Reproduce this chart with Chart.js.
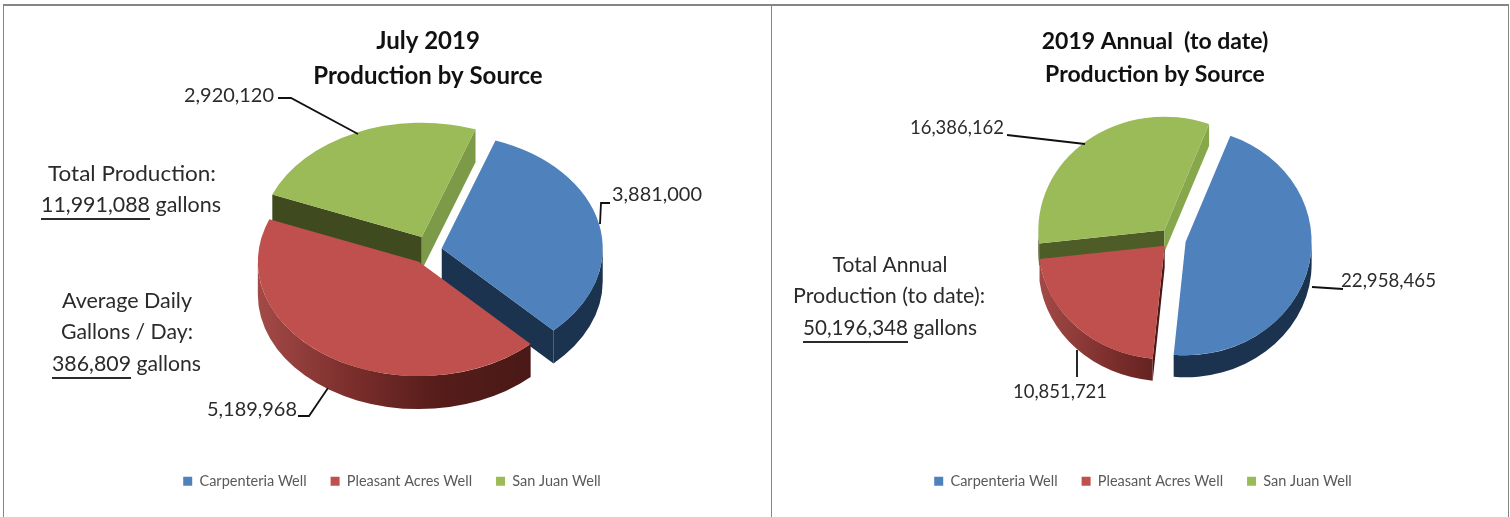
<!DOCTYPE html>
<html>
<head>
<meta charset="utf-8">
<title>Water production by source</title>
<script src="https://cdn.jsdelivr.net/npm/chart.js@4"></script>
<style>
  html, body { margin: 0; padding: 0; background: #fff; }
  body { position: relative; width: 1510px; height: 517px; overflow: hidden; }
  .panel { position: absolute; top: 4px; height: 513px; background: #fff; box-sizing: border-box;
           border-top: 2px solid #858585; }
  #framePanelA { left: 3px; width: 768px; border-left: 1px solid #858585; }
  #framePanelB { left: 771px; width: 738px; border-left: 1px solid #858585; border-right: 1px solid #858585; }
  canvas { position: absolute; top: 0; }
  #julyChart { left: 0; }
  #annualChart { left: 772px; }
</style>
</head>
<body>
<div class="panel" id="framePanelA"></div>
<div class="panel" id="framePanelB"></div>
<canvas id="julyChart" width="771" height="517"></canvas>
<canvas id="annualChart" width="736" height="517"></canvas>
<script>
const categories = ['Carpenteria Well', 'Pleasant Acres Well', 'San Juan Well'];
const sliceColors = ['#4f81bd', '#c0504d', '#9bbb59'];

const julyValues = [3881000, 5189968, 2920120];
const annualValues = [22958465, 10851721, 16386162];

const julyTitle = ['July 2019', 'Production by Source'];
const annualTitle = ['2019 Annual  (to date)', 'Production by Source'];

const julyNotes = ['Total Production:', 'Average Daily', 'Gallons / Day:'];
const julyFigures = [['11,991,088', ' gallons'], ['386,809', ' gallons']];
const annualNotes = ['Total Annual', 'Production (to date):'];
const annualFigures = [['50,196,348', ' gallons']];

const FONT = 'Lato, "Open Sans", sans-serif';

// Text squeezed horizontally to a wanted width, keeping the glyph height.
function fitText(ctx, text, x, y, width, align) {
  const natural = ctx.measureText(text).width;
  const sx = width ? width / natural : 1;
  ctx.save();
  ctx.translate(x, y);
  ctx.scale(sx, 1);
  ctx.textAlign = align;
  ctx.textBaseline = 'middle';
  ctx.fillText(text, 0, 0);
  ctx.restore();
}

// Walls of the tilted pie: visible cut faces first, then the curved rim.
function drawWalls(ctx, arc, cx, cy, k, depth, look, index) {
  const R = arc.outerRadius, s = arc.startAngle, e = arc.endAngle;
  const pt = a => [cx + R * Math.cos(a), cy + k * R * Math.sin(a)];
  const cut = (a, fill) => {
    const p = pt(a);
    ctx.beginPath();
    ctx.moveTo(cx, cy);
    ctx.lineTo(p[0], p[1]);
    ctx.lineTo(p[0], p[1] + depth);
    ctx.lineTo(cx, cy + depth);
    ctx.closePath();
    ctx.fillStyle = fill;
    ctx.fill();
  };
  const wall = look[index];
  if (-Math.cos(s) > 0) cut(s, wall.startFace);
  if (Math.cos(e) > 0) cut(e, wall.endFace);

  // The rim shows only where the slice faces the viewer (screen angles 0..PI).
  const TAU = Math.PI * 2;
  for (let turn = -1; turn <= 1; turn++) {
    const a0 = Math.max(s, turn * TAU);
    const a1 = Math.min(e, turn * TAU + Math.PI);
    if (a1 <= a0) continue;
    ctx.beginPath();
    ctx.ellipse(cx, cy, R, k * R, 0, a0, a1);
    ctx.ellipse(cx, cy + depth, R, k * R, 0, a1, a0, true);
    ctx.closePath();
    if (wall.rim.length > 1) {
      const g = ctx.createLinearGradient(cx - R, 0, cx + R * 0.66, 0);
      wall.rim.forEach((c, i) => g.addColorStop(i / (wall.rim.length - 1), c));
      ctx.fillStyle = g;
    } else {
      ctx.fillStyle = wall.rim[0];
    }
    ctx.fill();
  }
}

const tiltedPie = {
  id: 'tiltedPie',
  afterLayout(chart, args, o) {
    const t = chart.titleBlock, l = chart.legend;
    const dt = o.titleCenter - (t.left + t.right) / 2;
    t.left += dt; t.right += dt; t.top = o.titleTop; t.bottom = t.top + t.height;
    const dl = o.legendCenter - (l.left + l.right) / 2;
    l.left += dl; l.right += dl; l.top = o.legendTop; l.bottom = l.top + l.height;
  },
  beforeDatasetsDraw(chart, args, o) {
    const ctx = chart.ctx;
    const arcs = chart.getDatasetMeta(0).data;
    const place = i => {
      const mid = (arcs[i].startAngle + arcs[i].endAngle) / 2;
      return [o.center[0] + o.explode[i] * Math.cos(mid),
              o.center[1] + o.explode[i] * o.tilt * Math.sin(mid)];
    };
    // Painted back to front: the red slice sits over both neighbours' walls.
    [2, 0, 1].forEach(i => {
      const [cx, cy] = place(i);
      drawWalls(ctx, arcs[i], cx, cy, o.tilt, o.depth, o.walls, i);
      ctx.save();
      ctx.translate(cx, cy);
      ctx.scale(1, o.tilt);
      ctx.translate(-arcs[i].x, -arcs[i].y);
      arcs[i].draw(ctx);
      ctx.restore();
    });
    return false;
  },
  afterDraw(chart, args, o) {
    const ctx = chart.ctx;
    const values = chart.data.datasets[0].data;
    ctx.save();
    ctx.strokeStyle = '#111';
    ctx.lineWidth = 1.8;
    o.leaders.forEach(path => {
      ctx.beginPath();
      path.forEach((p, i) => i ? ctx.lineTo(p[0], p[1]) : ctx.moveTo(p[0], p[1]));
      ctx.stroke();
    });
    ctx.fillStyle = '#2b2b2b';
    ctx.font = `${o.valueFont}px ${FONT}`;
    o.valueSpots.forEach((s, i) => {
      fitText(ctx, values[i].toLocaleString('en-US'), s.x, s.y, s.w, s.align);
    });
    ctx.font = `${o.noteFont}px ${FONT}`;
    o.notes.forEach(n => fitText(ctx, n.text, n.x, n.y, n.w, 'center'));
    o.figures.forEach(f => {
      fitText(ctx, f.parts[0], f.x, f.y, f.numW, 'left');
      fitText(ctx, f.parts[1], f.x + f.numW, f.y, f.restW, 'left');
      ctx.fillRect(f.x, f.y + 13, f.numW, 2);
    });
    ctx.restore();
  }
};

function makeChart(id, values, title, titleSize, titleLine, opts) {
  return new Chart(document.getElementById(id), {
    type: 'pie',
    plugins: [tiltedPie],
    data: {
      labels: categories,
      datasets: [{ data: values, backgroundColor: sliceColors, borderWidth: 0, radius: opts.radius }]
    },
    options: {
      responsive: false,
      animation: false,
      rotation: opts.rotation,
      plugins: {
        tooltip: { enabled: false },
        title: {
          display: true,
          text: title,
          color: '#111',
          padding: 0,
          font: { family: FONT, weight: 'bold', size: titleSize, lineHeight: titleLine }
        },
        legend: {
          position: 'bottom',
          labels: {
            boxWidth: 9, boxHeight: 9, padding: 24, color: '#595959',
            font: { family: FONT, size: 14.5 }
          }
        },
        tiltedPie: opts
      }
    }
  });
}

const blueWall = { startFace: '#1c3350', endFace: '#1c3350', rim: ['#1c3350'] };
const redRim = ['#a34a47', '#7d2f2d', '#561d1a', '#4a1917'];

makeChart('julyChart', julyValues, julyTitle, 24, 1.46, {
  radius: 161, rotation: 19.5, center: [430, 250], explode: [12, 20, 20], tilt: 0.71, depth: 33,
  titleCenter: 428, titleTop: 24, legendCenter: 392, legendTop: 450,
  walls: [
    blueWall,
    { startFace: '#4a1917', endFace: '#4a1917', rim: redRim },
    { startFace: '#3f4b1e', endFace: '#7c9a48', rim: ['#3f4b1e'] }
  ],
  valueFont: 20,
  valueSpots: [
    { x: 612, y: 195, w: 90, align: 'left' },
    { x: 297, y: 410, w: 90, align: 'right' },
    { x: 274, y: 96, w: 90, align: 'right' }
  ],
  leaders: [
    [[600, 224], [601, 203], [610, 203]],
    [[328, 388], [309, 416], [298, 416]],
    [[358, 134], [291, 98], [278, 98]]
  ],
  noteFont: 21,
  notes: [
    { text: julyNotes[0], x: 132, y: 174, w: 168 },
    { text: julyNotes[1], x: 127, y: 301, w: 130 },
    { text: julyNotes[2], x: 127, y: 332, w: 132 }
  ],
  figures: [
    { parts: julyFigures[0], x: 41, y: 205, numW: 109, restW: 71 },
    { parts: julyFigures[1], x: 52, y: 364, numW: 79, restW: 70 }
  ]
});

makeChart('annualChart', annualValues, annualTitle, 23, 1.43, {
  radius: 126, rotation: 20.8, center: [400, 239], explode: [14, 10.5, 12.5], tilt: 0.9, depth: 22,
  titleCenter: 383, titleTop: 25, legendCenter: 371, legendTop: 450,
  walls: [
    blueWall,
    { startFace: '#4a1917', endFace: '#4a1917', rim: redRim },
    { startFace: '#4e5c28', endFace: '#86a84a', rim: ['#4e5c28'] }
  ],
  valueFont: 20,
  valueSpots: [
    { x: 569, y: 281, w: 95, align: 'left' },
    { x: 288, y: 392, w: 94, align: 'center' },
    { x: 232, y: 128, w: 94, align: 'right' }
  ],
  leaders: [
    [[540, 287], [571, 289]],
    [[305, 350], [305, 377]],
    [[235, 135], [313, 144]]
  ],
  noteFont: 21,
  notes: [
    { text: annualNotes[0], x: 118, y: 265, w: 115 },
    { text: annualNotes[1], x: 117, y: 296, w: 192 }
  ],
  figures: [
    { parts: annualFigures[0], x: 31, y: 328, numW: 105, restW: 69 }
  ]
});
</script>
</body>
</html>
